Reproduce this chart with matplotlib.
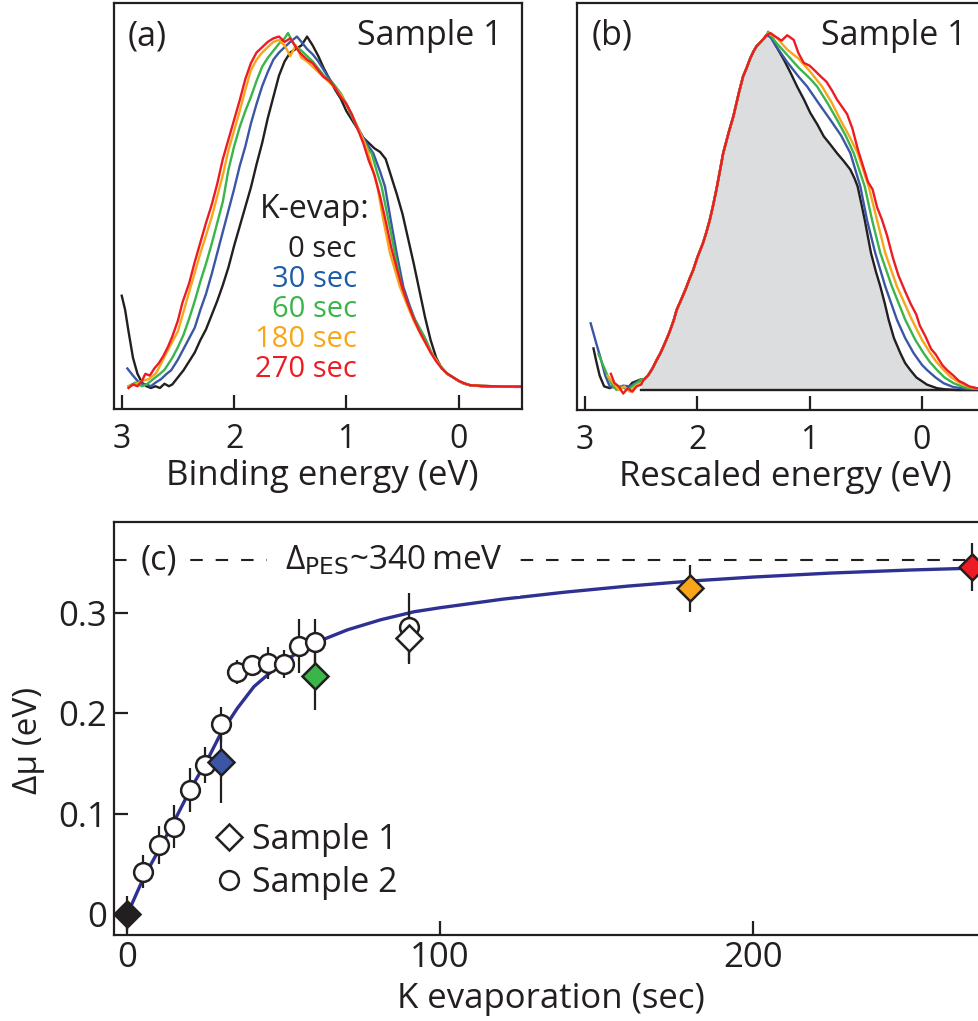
import matplotlib
matplotlib.use('Agg')
import matplotlib.pyplot as plt
from matplotlib.lines import Line2D
import numpy as np

plt.rcParams['font.family'] = ['Open Sans', 'DejaVu Sans']
plt.rcParams['text.color'] = '#231f20'
plt.rcParams['axes.edgecolor'] = '#231f20'
plt.rcParams['xtick.color'] = '#231f20'
plt.rcParams['ytick.color'] = '#231f20'

# ---------------- panel (a): raw spectra vs binding energy ----------------
e_a_black = [3.00, 2.97, 2.94, 2.90, 2.86, 2.82, 2.78, 2.74, 2.70, 2.66, 2.62, 2.58, 2.55, 2.50, 2.45, 2.40, 2.35, 2.30,
             2.25, 2.20, 2.15, 2.10, 2.05, 2.00, 1.95, 1.90, 1.85, 1.80, 1.75, 1.70, 1.65, 1.60, 1.55, 1.50, 1.45, 1.40,
             1.35, 1.30, 1.25, 1.20, 1.15, 1.10, 1.05, 1.00, 0.95, 0.90, 0.85, 0.80, 0.75, 0.70, 0.65, 0.60, 0.55, 0.50,
             0.45, 0.40, 0.35, 0.30, 0.25, 0.20, 0.15, 0.10, 0.05, 0.00, -0.05, -0.10, -0.20, -0.30, -0.40, -0.50, -0.56]
i_a_black = [0.26, 0.22, 0.16, 0.085, 0.04, 0.015, 0.005, 0.0, 0.005, 0.0, 0.012, 0.005, 0.01, 0.03, 0.05, 0.075, 0.10,
             0.135, 0.165, 0.205, 0.245, 0.29, 0.34, 0.40, 0.455, 0.51, 0.565, 0.63, 0.69, 0.76, 0.82, 0.88, 0.92, 0.945,
             0.955, 0.965, 0.99, 0.965, 0.935, 0.90, 0.87, 0.84, 0.815, 0.78, 0.755, 0.73, 0.705, 0.69, 0.675, 0.665,
             0.645, 0.595, 0.545, 0.49, 0.42, 0.35, 0.275, 0.20, 0.135, 0.085, 0.055, 0.04, 0.03, 0.02, 0.013, 0.008,
             0.005, 0.004, 0.004, 0.003, 0.003]

e_a_blue = [2.95, 2.90, 2.86, 2.82, 2.78, 2.74, 2.70, 2.65, 2.60, 2.56, 2.50, 2.45, 2.40, 2.35, 2.30, 2.25, 2.20, 2.15,
            2.10, 2.05, 2.00, 1.95, 1.90, 1.85, 1.80, 1.75, 1.70, 1.65, 1.60, 1.55, 1.50, 1.44, 1.40, 1.35, 1.30, 1.25,
            1.20, 1.15, 1.10, 1.05, 1.00, 0.95, 0.90, 0.85, 0.80, 0.76, 0.70, 0.656, 0.605, 0.552, 0.493, 0.44, 0.389,
            0.30, 0.241, 0.17, 0.107, 0.05, 0.0, -0.041, -0.10, -0.20, -0.30, -0.40, -0.50, -0.56]
i_a_blue = [0.055, 0.035, 0.02, 0.012, 0.01, 0.005, 0.015, 0.025, 0.04, 0.05, 0.08, 0.11, 0.14, 0.17, 0.22, 0.265, 0.32,
            0.38, 0.44, 0.50, 0.56, 0.625, 0.68, 0.745, 0.80, 0.85, 0.89, 0.925, 0.945, 0.96, 0.975, 0.99, 0.975, 0.955,
            0.94, 0.92, 0.895, 0.87, 0.85, 0.825, 0.80, 0.765, 0.735, 0.705, 0.68, 0.661, 0.61, 0.567, 0.473, 0.379,
            0.285, 0.235, 0.192, 0.14, 0.098, 0.065, 0.041, 0.03, 0.02, 0.013, 0.008, 0.006, 0.005, 0.004, 0.004, 0.004]

e_a_green = [2.94, 2.88, 2.82, 2.78, 2.72, 2.66, 2.62, 2.55, 2.50, 2.45, 2.40, 2.35, 2.30, 2.25, 2.20, 2.15, 2.10, 2.05,
             2.00, 1.95, 1.90, 1.85, 1.80, 1.75, 1.70, 1.65, 1.60, 1.55, 1.52, 1.48, 1.44, 1.40, 1.35, 1.30, 1.25, 1.20,
             1.15, 1.10, 1.05, 1.00, 0.95, 0.90, 0.85, 0.80, 0.775, 0.72, 0.686, 0.626, 0.567, 0.508, 0.45, 0.389, 0.30,
             0.241, 0.17, 0.107, 0.05, 0.0, -0.041, -0.10, -0.20, -0.30, -0.40, -0.50, -0.56]
i_a_green = [0.005, 0.015, 0.005, 0.01, 0.025, 0.04, 0.051, 0.085, 0.115, 0.15, 0.195, 0.245, 0.30, 0.35, 0.405, 0.465,
             0.525, 0.615, 0.68, 0.735, 0.78, 0.82, 0.865, 0.905, 0.93, 0.95, 0.97, 0.985, 1.0, 0.975, 0.96, 0.95, 0.935,
             0.92, 0.90, 0.88, 0.865, 0.85, 0.83, 0.80, 0.765, 0.73, 0.70, 0.67, 0.661, 0.60, 0.567, 0.473, 0.379, 0.285,
             0.235, 0.192, 0.14, 0.098, 0.065, 0.041, 0.03, 0.02, 0.013, 0.008, 0.006, 0.005, 0.004, 0.004, 0.004]

e_a_orange = [2.94, 2.88, 2.82, 2.76, 2.70, 2.68, 2.60, 2.55, 2.50, 2.45, 2.40, 2.35, 2.30, 2.25, 2.20, 2.15, 2.10, 2.05,
              2.00, 1.95, 1.90, 1.85, 1.80, 1.75, 1.70, 1.65, 1.60, 1.55, 1.50, 1.45, 1.40, 1.35, 1.30, 1.25, 1.20, 1.15,
              1.10, 1.05, 1.00, 0.95, 0.90, 0.85, 0.804, 0.724, 0.671, 0.611, 0.523, 0.46, 0.404, 0.32, 0.241, 0.17,
              0.107, 0.05, 0.0, -0.041, -0.10, -0.20, -0.30, -0.40, -0.50, -0.56]
i_a_orange = [0.005, 0.01, 0.02, 0.025, 0.04, 0.05, 0.10, 0.13, 0.16, 0.215, 0.27, 0.325, 0.38, 0.43, 0.48, 0.54, 0.60,
              0.67, 0.725, 0.78, 0.84, 0.895, 0.925, 0.945, 0.96, 0.975, 0.98, 0.965, 0.935, 0.965, 0.93, 0.92, 0.905,
              0.89, 0.875, 0.86, 0.845, 0.825, 0.80, 0.77, 0.735, 0.70, 0.661, 0.567, 0.473, 0.379, 0.285, 0.235, 0.192,
              0.14, 0.098, 0.065, 0.041, 0.03, 0.02, 0.013, 0.008, 0.006, 0.005, 0.004, 0.004, 0.004]

e_a_red = [2.94, 2.90, 2.86, 2.82, 2.79, 2.75, 2.71, 2.67, 2.63, 2.59, 2.55, 2.50, 2.46, 2.40, 2.35, 2.30, 2.25, 2.20,
           2.15, 2.10, 2.05, 2.00, 1.95, 1.90, 1.85, 1.80, 1.75, 1.70, 1.65, 1.60, 1.55, 1.50, 1.45, 1.41, 1.35, 1.30,
           1.25, 1.205, 1.15, 1.10, 1.05, 1.00, 0.95, 0.90, 0.85, 0.80, 0.75, 0.70, 0.65, 0.60, 0.55, 0.50, 0.45, 0.40,
           0.35, 0.30, 0.25, 0.20, 0.15, 0.10, 0.05, 0.0, -0.05, -0.10, -0.20, -0.30, -0.40, -0.50, -0.56]
i_a_red = [0.0, 0.01, 0.005, 0.02, 0.04, 0.035, 0.055, 0.07, 0.09, 0.115, 0.145, 0.19, 0.24, 0.295, 0.355, 0.41, 0.465,
           0.515, 0.575, 0.645, 0.70, 0.755, 0.81, 0.87, 0.915, 0.945, 0.96, 0.975, 0.985, 0.99, 0.975, 0.985, 0.96,
           0.943, 0.925, 0.915, 0.895, 0.877, 0.865, 0.845, 0.82, 0.80, 0.77, 0.73, 0.69, 0.64, 0.60, 0.54, 0.47, 0.395,
           0.335, 0.28, 0.235, 0.195, 0.16, 0.13, 0.10, 0.075, 0.055, 0.04, 0.03, 0.02, 0.013, 0.008, 0.006, 0.005,
           0.004, 0.004, 0.004]

# ---------------- panel (b): rescaled spectra ----------------
# leading edge where all rescaled curves coincide
e_b_rise = [2.48, 2.44, 2.40, 2.36, 2.33, 2.29, 2.25, 2.21, 2.185, 2.14, 2.10, 2.07, 2.037, 2.00, 1.95, 1.92, 1.889,
            1.86, 1.83, 1.80, 1.77, 1.72, 1.68, 1.63, 1.593, 1.56, 1.53, 1.50, 1.474, 1.44, 1.41, 1.385]
i_b_rise = [0.028, 0.04, 0.06, 0.085, 0.102, 0.13, 0.16, 0.195, 0.223, 0.255, 0.285, 0.31, 0.335, 0.37, 0.41, 0.44,
            0.475, 0.515, 0.56, 0.61, 0.661, 0.72, 0.763, 0.83, 0.875, 0.90, 0.925, 0.945, 0.959, 0.97, 0.98, 0.99]

e_b_black_lo = [2.925, 2.90, 2.87, 2.83, 2.78, 2.74, 2.70, 2.66, 2.62, 2.58, 2.54, 2.50]
i_b_black_lo = [0.116, 0.08, 0.04, 0.01, 0.005, 0.012, 0.005, 0.01, 0.005, 0.02, 0.025, 0.03]
e_b_black_hi = [1.349, 1.30, 1.23, 1.17, 1.112, 1.05, 0.994, 0.93, 0.875, 0.816, 0.757, 0.70, 0.638, 0.60, 0.573, 0.54,
                0.51, 0.454, 0.41, 0.371, 0.33, 0.297, 0.25, 0.193, 0.15, 0.105, 0.05, -0.044, -0.133, -0.20, -0.30,
                -0.56]
i_b_black_hi = [0.99, 0.96, 0.922, 0.885, 0.847, 0.81, 0.773, 0.74, 0.708, 0.685, 0.661, 0.64, 0.615, 0.59, 0.568, 0.52,
                0.475, 0.382, 0.33, 0.289, 0.24, 0.196, 0.145, 0.103, 0.075, 0.056, 0.035, 0.015, 0.005, 0.002, 0.0,
                0.0]

e_b_blue_lo = [2.95, 2.90, 2.86, 2.82, 2.78, 2.72, 2.66, 2.60, 2.55, 2.50]
i_b_blue_lo = [0.186, 0.13, 0.087, 0.04, 0.01, 0.005, 0.012, 0.01, 0.02, 0.025]
e_b_blue_hi = [1.35, 1.30, 1.20, 1.10, 1.023, 0.92, 0.816, 0.72, 0.638, 0.549, 0.49, 0.416, 0.327, 0.223, 0.15, 0.075,
               0.0, -0.044, -0.12, -0.192, -0.28, -0.40, -0.56]
i_b_blue_hi = [0.985, 0.96, 0.915, 0.875, 0.847, 0.80, 0.754, 0.71, 0.661, 0.568, 0.475, 0.382, 0.289, 0.196, 0.145,
               0.103, 0.07, 0.056, 0.035, 0.019, 0.008, 0.003, 0.002]

e_b_green_lo = [2.88, 2.84, 2.80, 2.76, 2.72, 2.68, 2.62, 2.56, 2.50]
i_b_green_lo = [0.10, 0.07, 0.04, 0.015, 0.0, 0.01, 0.0, 0.015, 0.03]
e_b_green_hi = [1.37, 1.30, 1.20, 1.10, 1.00, 0.934, 0.84, 0.756, 0.68, 0.608, 0.51, 0.445, 0.371, 0.268, 0.149, 0.06,
                -0.014, -0.07, -0.133, -0.20, -0.281, -0.37, -0.45, -0.56]
i_b_green_hi = [1.0, 0.97, 0.935, 0.90, 0.87, 0.847, 0.80, 0.754, 0.71, 0.661, 0.568, 0.475, 0.382, 0.289, 0.196, 0.14,
                0.103, 0.078, 0.056, 0.035, 0.019, 0.008, 0.004, 0.002]

e_b_orange_lo = [2.80, 2.75, 2.70, 2.65, 2.60, 2.55, 2.50]
i_b_orange_lo = [0.04, 0.02, 0.0, 0.01, -0.005, 0.01, 0.02]
e_b_orange_hi = [1.37, 1.30, 1.20, 1.10, 1.00, 0.89, 0.80, 0.727, 0.65, 0.573, 0.475, 0.401, 0.327, 0.223, 0.09, 0.0,
                 -0.073, -0.13, -0.192, -0.26, -0.34, -0.42, -0.50, -0.56]
i_b_orange_hi = [0.995, 0.985, 0.95, 0.925, 0.89, 0.847, 0.80, 0.754, 0.71, 0.661, 0.568, 0.475, 0.382, 0.289, 0.196,
                 0.14, 0.103, 0.078, 0.056, 0.035, 0.019, 0.008, 0.004, 0.003]

e_b_red_lo = [2.77, 2.74, 2.70, 2.66, 2.62, 2.58, 2.54, 2.50]
i_b_red_lo = [0.045, 0.02, 0.01, -0.01, 0.005, -0.005, 0.01, 0.015]
e_b_red_hi = [1.349, 1.30, 1.25, 1.20, 1.142, 1.10, 1.053, 1.00, 0.95, 0.905, 0.85, 0.80, 0.756, 0.70, 0.667, 0.62,
              0.57, 0.52, 0.48, 0.44, 0.40, 0.356, 0.31, 0.26, 0.21, 0.15, 0.10, 0.05, 0.02, -0.03, -0.08, -0.12, -0.18,
              -0.221, -0.28, -0.33, -0.37, -0.42, -0.488, -0.56]
i_b_red_hi = [0.996, 0.985, 0.975, 0.99, 0.977, 0.94, 0.913, 0.905, 0.89, 0.876, 0.86, 0.835, 0.81, 0.785, 0.77, 0.73,
              0.67, 0.62, 0.58, 0.56, 0.51, 0.475, 0.43, 0.37, 0.32, 0.275, 0.24, 0.21, 0.18, 0.15, 0.115, 0.10, 0.07,
              0.056, 0.04, 0.025, 0.019, 0.01, 0.005, 0.003]

# ---------------- panel (c): chemical potential shift ----------------
t_s2 = [5, 10, 15, 20, 25, 30, 35, 40, 45, 50, 55, 60, 90]
mu_s2 = [0.0424, 0.069, 0.087, 0.1237, 0.1486, 0.189, 0.2414, 0.248, 0.2504, 0.249, 0.267, 0.2713, 0.2856]
err_s2 = [0.0166, 0.019, 0.0215, 0.0215, 0.018, 0.0175, 0.012, 0.01, 0.016, 0.014, 0.027, 0.022, 0.0345]

t_s1 = [0, 30, 60, 90, 180, 270]
mu_s1 = [0.0, 0.1519, 0.2371, 0.2746, 0.3244, 0.3453]
err_s1 = [0.018, 0.0415, 0.034, 0.0255, 0.0232, 0.024]
col_s1 = ['#231f20', '#3a56a5', '#3ab54a', 'white', '#f9a51a', '#ed1c24']

fit_t = [0, 5.3, 10.1, 14.9, 20.3, 25.6, 29.9, 35.2, 40.5, 45.9, 52.3, 59.7, 70.4, 81, 91.7, 100, 120, 140, 160,
         180, 200, 225, 250, 275]
fit_mu = [0, 0.037, 0.064, 0.092, 0.125, 0.1535, 0.18, 0.205, 0.2265, 0.241, 0.256, 0.2697, 0.283, 0.293, 0.301,
          0.305, 0.3135, 0.3205, 0.3265, 0.3315, 0.3355, 0.3395, 0.3425, 0.3448]
delta_pes = 0.352

evap_labels = ['0 sec', '30 sec', '60 sec', '180 sec', '270 sec']
line_cols = ['#231f20', '#3a56a5', '#3ab54a', '#f9a51a', '#ed1c24']
text_cols = ['#231f20', '#1d5ca8', '#3ab54a', '#f9a51a', '#ed1c24']

W, H = 979, 1021
fig = plt.figure(figsize=(W / 100, H / 100), dpi=100)
ax_a = fig.add_axes([114 / W, 1 - 409.3 / H, 407.7 / W, 406 / H])
ax_b = fig.add_axes([577.3 / W, 1 - 410 / H, 407.7 / W, 407 / H])
ax_c = fig.add_axes([114 / W, 1 - 935 / H, 871 / W, 413 / H])

for ax in (ax_a, ax_b, ax_c):
    for sp in ax.spines.values():
        sp.set_linewidth(1.6)

# (a)
curves_a = [(e_a_black, i_a_black), (e_a_blue, i_a_blue), (e_a_green, i_a_green),
            (e_a_orange, i_a_orange), (e_a_red, i_a_red)]
for (e, i), c in zip(curves_a, line_cols):
    ax_a.plot(e, i, color=c, lw=1.7)

# (b)
e_bk = np.array(e_b_black_lo + e_b_rise + e_b_black_hi)
i_bk = np.array(i_b_black_lo + i_b_rise + i_b_black_hi)
inside = e_bk <= 2.5
ax_b.fill_between(e_bk[inside], 0, i_bk[inside], color='#dcdddf', lw=0, zorder=1)
ax_b.plot(e_bk[inside], np.zeros(inside.sum()), color='#231f20', lw=1.7, zorder=1.5)
curves_b = [(e_bk, i_bk),
            (e_b_blue_lo + e_b_rise + e_b_blue_hi, i_b_blue_lo + i_b_rise + i_b_blue_hi),
            (e_b_green_lo + e_b_rise + e_b_green_hi, i_b_green_lo + i_b_rise + i_b_green_hi),
            (e_b_orange_lo + e_b_rise + e_b_orange_hi, i_b_orange_lo + i_b_rise + i_b_orange_hi),
            (e_b_red_lo + e_b_rise + e_b_red_hi, i_b_red_lo + i_b_rise + i_b_red_hi)]
for (e, i), c in zip(curves_b, line_cols):
    ax_b.plot(e, i, color=c, lw=1.7, zorder=2)

for ax, lab, xl, ylo, yhi in [(ax_a, '(a)', 'Binding energy (eV)', -0.060, 1.0837),
                              (ax_b, '(b)', 'Rescaled energy (eV)', -0.0559, 1.080)]:
    ax.set_xlim(3.069, -0.561)
    ax.set_ylim(ylo, yhi)
    ax.set_xticks([3, 2, 1, 0])
    ax.set_xticklabels(['3', '2', '1', '0'])
    ax.set_yticks([])
    ax.tick_params(axis='x', direction='in', length=10, width=1.6, pad=10, labelsize=23)
    ax.text(0.034, 0.897, lab, transform=ax.transAxes, fontsize=24.5, ha='left', va='baseline')
    ax.text(0.954, 0.897, 'Sample 1', transform=ax.transAxes, fontsize=24.5, ha='right', va='baseline')
    ax.text(0.511, -0.186, xl, transform=ax.transAxes, fontsize=25, ha='center', va='baseline')

ax_a.text(0.628, 0.471, 'K-evap:', transform=ax_a.transAxes, fontsize=23, ha='right', va='baseline')
for lab, c, y in zip(evap_labels, text_cols, [0.375, 0.3013, 0.2274, 0.1535, 0.0796]):
    ax_a.text(0.596, y, lab, color=c, transform=ax_a.transAxes, fontsize=21, ha='right', va='baseline')

# (c)
ax_c.axhline(delta_pes, color='#231f20', lw=1.5, dashes=(6, 6.2), zorder=1)
ax_c.plot(fit_t, fit_mu, color='#2e3192', lw=2.4, zorder=2)
ax_c.errorbar(t_s2, mu_s2, yerr=err_s2, fmt='none', ecolor='#231f20', elinewidth=1.6, capsize=0, zorder=2.5)
ax_c.errorbar(t_s1, mu_s1, yerr=err_s1, fmt='none', ecolor='#231f20', elinewidth=1.6, capsize=0, zorder=2.5,
              clip_on=False)
ax_c.plot(t_s2, mu_s2, 'o', ms=13.5, mfc='white', mec='#231f20', mew=1.8, zorder=3)
for t, m, c in zip(t_s1, mu_s1, col_s1):
    ax_c.plot(t, m, 'D', ms=13.5, mfc=c, mec='#231f20', mew=1.8, zorder=4, clip_on=False)

ax_c.set_xlim(-4.25, 274.3)
ax_c.set_ylim(-0.0206, 0.3903)
ax_c.set_xticks([0, 100, 200])
ax_c.set_yticks([0, 0.1, 0.2, 0.3])
ax_c.set_yticklabels(['0', '0.1', '0.2', '0.3'])
ax_c.tick_params(direction='in', length=10, width=1.6, labelsize=25)
ax_c.tick_params(axis='x', pad=4)
ax_c.tick_params(axis='y', pad=5)

ax_c.text(0.030, 0.906, '(c)', transform=ax_c.transAxes, fontsize=24.5, ha='left', va='center', zorder=2.2,
          bbox=dict(facecolor='white', edgecolor='none', pad=8))
ax_c.text(0.196, 0.906, 'Δ$_{\\mathrm{PES}}$~340\u2009meV', transform=ax_c.transAxes, fontsize=24, ha='left',
          va='center', zorder=2.2, bbox=dict(facecolor='white', edgecolor='none', pad=13))

ax_c.text(0.502, -0.177, 'K evaporation (sec)', transform=ax_c.transAxes, fontsize=25, ha='center', va='baseline')
ax_c.text(-0.0987, 0.472, 'Δμ (eV)', transform=ax_c.transAxes, fontsize=24, rotation=90, ha='center', va='center')

handles = [Line2D([], [], ls='none', marker='D', ms=13.5, mfc='white', mec='#231f20', mew=1.8),
           Line2D([], [], ls='none', marker='o', ms=13.5, mfc='white', mec='#231f20', mew=1.8)]
ax_c.legend(handles, ['Sample 1', 'Sample 2'], loc='center left', bbox_to_anchor=(0.1166, 0.178), frameon=False,
            fontsize=24.5, handlelength=0.8, handletextpad=0.28, labelspacing=0.25, borderpad=0, borderaxespad=0)

fig.savefig('out.png', dpi=100)
